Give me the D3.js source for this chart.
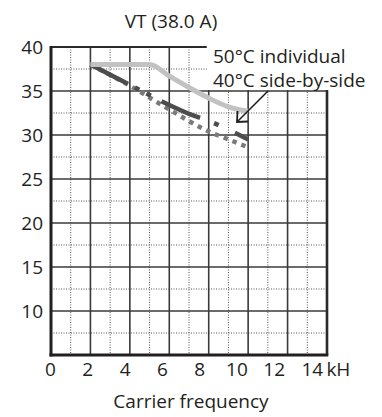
<!DOCTYPE html>
<html>
<head>
<meta charset="utf-8">
<script src="https://cdn.jsdelivr.net/npm/d3@7/dist/d3.min.js"></script>
<style>
  body { margin: 0; background: #fff; }
  svg text { font-family: 'Open Sans', 'Noto Sans', sans-serif; fill: #231f20; }
</style>
</head>
<body>
<div class="chart"></div>
<script>
(function () {
    'use strict';

    // carrier frequency (kHz) vs rated current (A)
    const freq50 = [2, 5, 6, 7, 8, 9, 10];
    const amps50 = [38, 38, 36.7, 35.4, 34.2, 33.2, 32.7];

    const freqDark = [2, 4, 6, 7, 8, 9, 10];
    const ampsDark = [38, 35.7, 33.4, 32.4, 31.6, 30.6, 29.5];

    const freq40 = [2, 4, 6, 8, 9, 10];
    const amps40 = [38, 35.6, 32.9, 30.4, 29.5, 28.6];

    const xTicks = [0, 2, 4, 6, 8, 10, 12, 14];
    const yTicks = [10, 15, 20, 25, 30, 35, 40];
    const legendLabels = ['50°C individual', '40°C side-by-side'];

    const width = 382, height = 417;
    const svg = d3.select('.chart').append('svg').attr('width', width).attr('height', height);

    const x = d3.scaleLinear().domain([0, 14]).range([51, 327]);
    const y = d3.scaleLinear().domain([5, 40]).range([355, 47]);
    // tick labels in the original sit a bit to the left of the grid lines
    const xLabel = d3.scaleLinear().domain([0, 14]).range([50, 311]);

    const grid = svg.append('g').attr('class', 'grid');

    // dotted minor grid
    grid.selectAll('.vminor').data(d3.range(1, 14, 2)).enter().append('line')
        .attr('x1', d => x(d)).attr('x2', d => x(d))
        .attr('y1', y(40)).attr('y2', y(5))
        .attr('stroke', '#555').attr('stroke-width', 1).attr('stroke-dasharray', '1,1.5');
    grid.selectAll('.hminor').data(d3.range(7.5, 40, 5)).enter().append('line')
        .attr('x1', x(0)).attr('x2', x(14))
        .attr('y1', d => y(d)).attr('y2', d => y(d))
        .attr('stroke', '#555').attr('stroke-width', 1).attr('stroke-dasharray', '1,1.5');

    // solid major grid
    grid.selectAll('.vmajor').data(d3.range(2, 14, 2)).enter().append('line')
        .attr('x1', d => x(d)).attr('x2', d => x(d))
        .attr('y1', y(40)).attr('y2', y(5))
        .attr('stroke', '#3a3a3a').attr('stroke-width', 1.6);
    grid.selectAll('.hmajor').data(d3.range(10, 40, 5)).enter().append('line')
        .attr('x1', x(0)).attr('x2', x(14))
        .attr('y1', d => y(d)).attr('y2', d => y(d))
        .attr('stroke', '#3a3a3a').attr('stroke-width', 1.6);

    // frame: top, right
    grid.append('line').attr('x1', x(0)).attr('x2', x(14)).attr('y1', y(40)).attr('y2', y(40))
        .attr('stroke', '#2a2a2a').attr('stroke-width', 2.2);
    grid.append('line').attr('x1', x(14)).attr('x2', x(14)).attr('y1', y(40)).attr('y2', y(5))
        .attr('stroke', '#2a2a2a').attr('stroke-width', 2.6);

    // blank the corner where the legend sits
    svg.append('rect').attr('x', x(7.9)).attr('y', 0)
        .attr('width', width - x(7.9)).attr('height', y(35) - 1)
        .attr('fill', '#fff');

    // frame: left, bottom
    svg.append('line').attr('x1', x(0)).attr('x2', x(0)).attr('y1', y(40) - 1).attr('y2', y(5) + 1.5)
        .attr('stroke', '#231f20').attr('stroke-width', 3);
    svg.append('line').attr('x1', x(0) - 1.5).attr('x2', x(14) + 1.3).attr('y1', y(5)).attr('y2', y(5))
        .attr('stroke', '#231f20').attr('stroke-width', 3);

    // axis labels
    const xAxis = d3.axisBottom(xLabel).tickValues(xTicks).tickSize(0).tickPadding(8)
        .tickFormat(d => d === 14 ? '14\u2009kH' : d);
    svg.append('g').attr('transform', 'translate(0,' + y(5) + ')').call(xAxis)
        .call(g => g.select('.domain').remove())
        .call(g => g.selectAll('text').style('font-size', '19px').attr('fill', '#231f20')
            .attr('text-anchor', d => d === 14 ? 'start' : 'middle')
            .attr('dx', d => d === 14 ? -10 : 0));

    const yAxis = d3.axisLeft(y).tickValues(yTicks).tickSize(0).tickPadding(8);
    svg.append('g').attr('transform', 'translate(' + x(0) + ',0)').call(yAxis)
        .call(g => g.select('.domain').remove())
        .call(g => g.selectAll('text').style('font-size', '19px').attr('fill', '#231f20'));

    svg.append('text').text('VT (38.0 A)')
        .attr('x', 171).attr('y', 28).attr('text-anchor', 'middle').style('font-size', '19px');
    svg.append('text').text('Carrier frequency')
        .attr('x', 191).attr('y', 408).attr('text-anchor', 'middle').style('font-size', '19px');

    // curves
    const line = d3.line().x(d => x(d[0])).y(d => y(d[1])).curve(d3.curveMonotoneX);
    const curves = svg.append('g').attr('class', 'curves').attr('fill', 'none');

    curves.append('path').datum(d3.zip(freq40, amps40)).attr('d', line)
        .attr('stroke', '#7a7a7a').attr('stroke-width', 4.5).attr('stroke-dasharray', '4.5,5');

    curves.append('path').datum(d3.zip(freqDark, ampsDark)).attr('d', line)
        .attr('stroke', '#4d4d4d').attr('stroke-width', 4.5)
        .attr('stroke-dasharray', '42,8,5,8,5,12,42,15,5,18,20');

    curves.append('path').datum(d3.zip(freq50, amps50)).attr('d', line)
        .attr('stroke', '#c2c2c2').attr('stroke-width', 5);

    // legend
    const legend = svg.append('g').attr('class', 'legend');
    legend.selectAll('text').data(legendLabels).enter().append('text')
        .text(d => d)
        .attr('x', 213).attr('y', (d, i) => 63 + i * 24)
        .style('font-size', '19px');

    // arrow pointing to the side-by-side curve
    const tip = [237, 122];
    legend.append('line').attr('x1', 268).attr('y1', 91).attr('x2', tip[0] + 1).attr('y2', tip[1] - 1)
        .attr('stroke', '#231f20').attr('stroke-width', 1.6);
    legend.append('path')
        .attr('d', 'M' + (tip[0] + 0.5) + ',' + (tip[1] - 11) + 'L' + tip[0] + ',' + tip[1] + 'L' + (tip[0] + 11) + ',' + (tip[1] - 0.5))
        .attr('fill', 'none').attr('stroke', '#231f20').attr('stroke-width', 1.8);
}());
</script>
</body>
</html>
